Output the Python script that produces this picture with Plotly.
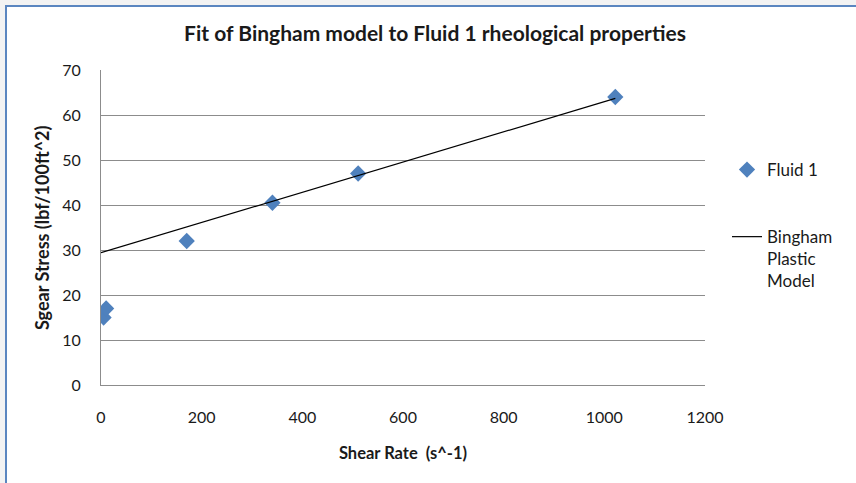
import plotly.graph_objects as go

# Viscometer readings for Fluid 1
shear_rate = [5.11, 10.22, 170.3, 340.6, 510.9, 1021.8]      # s^-1
shear_stress = [15, 17, 32, 40.5, 47, 64]                   # lbf/100ft^2

# Bingham plastic model line (end points)
bingham_x = [0, 1021.8]
bingham_y = [29.4, 63.7]

x_ticks = [0, 200, 400, 600, 800, 1000, 1200]
y_ticks = [0, 10, 20, 30, 40, 50, 60, 70]

FONT = "Lato"
BLUE = "#4F81BD"
GRID = "#8c8c8c"
TEXT = "#1a1a1a"

W, H = 856, 483
L, R, T, B = 101, 151, 70, 98
pw, ph = W - L - R, H - T - B


def px(x):
    return (x - L) / pw


def py(y):
    return (H - B - y) / ph


fig = go.Figure()

fig.add_trace(go.Scatter(
    x=shear_rate, y=shear_stress, mode="markers", name="Fluid 1",
    marker=dict(symbol="diamond", size=12.5, color=BLUE,
                line=dict(width=0)),
    legendgroup="a",
))
fig.add_trace(go.Scatter(
    x=bingham_x, y=bingham_y, mode="lines",
    name="Bingham<br>Plastic<br>Model",
    line=dict(color="black", width=1.2),
    legendgroup="b",
))

fig.update_layout(
    width=W, height=H,
    margin=dict(l=L, r=R, t=T, b=B),
    paper_bgcolor="#f3f3f3",
    plot_bgcolor="white",
    font=dict(family=FONT, size=16, color=TEXT),
    title=dict(
        text="<b>Fit of Bingham model to Fluid 1 rheological properties</b>",
        x=435 / W, xanchor="center", y=1 - 34 / H, yanchor="middle",
        font=dict(family=FONT, size=21, color=TEXT),
    ),
    xaxis=dict(
        range=[0, 1200], tickvals=x_ticks, showgrid=False,
        showline=True, linecolor=GRID, linewidth=1,
        ticks="", ticklabelstandoff=18, zeroline=False,
        tickfont=dict(size=16),
        title=dict(text="<b>Shear Rate  (s^-1)</b>", standoff=22,
                   font=dict(size=16.5)),
    ),
    yaxis=dict(
        range=[0, 70], tickvals=y_ticks, showgrid=True,
        gridcolor=GRID, gridwidth=1,
        showline=True, linecolor=GRID, linewidth=1,
        ticks="", ticklabelstandoff=16, zeroline=False,
        tickfont=dict(size=16),
    ),
    annotations=[
        dict(text="<b>Sgear Stress (lbf/100ft^2)</b>", textangle=-90,
             xref="paper", yref="paper", x=px(42), y=py(228),
             xanchor="center", yanchor="middle", showarrow=False,
             font=dict(size=18, color=TEXT)),
    ],
    legend=dict(
        x=px(727), y=py(152), xanchor="left", yanchor="top",
        bgcolor="rgba(0,0,0,0)", valign="top",
        tracegroupgap=42, font=dict(size=17),
    ),
    shapes=[
        dict(type="rect", xref="paper", yref="paper",
             x0=px(6), x1=px(900), y0=py(520), y1=py(6),
             fillcolor="white", line=dict(color="#5b86c0", width=2),
             layer="below"),
    ],
)

fig.write_html("out.html")
